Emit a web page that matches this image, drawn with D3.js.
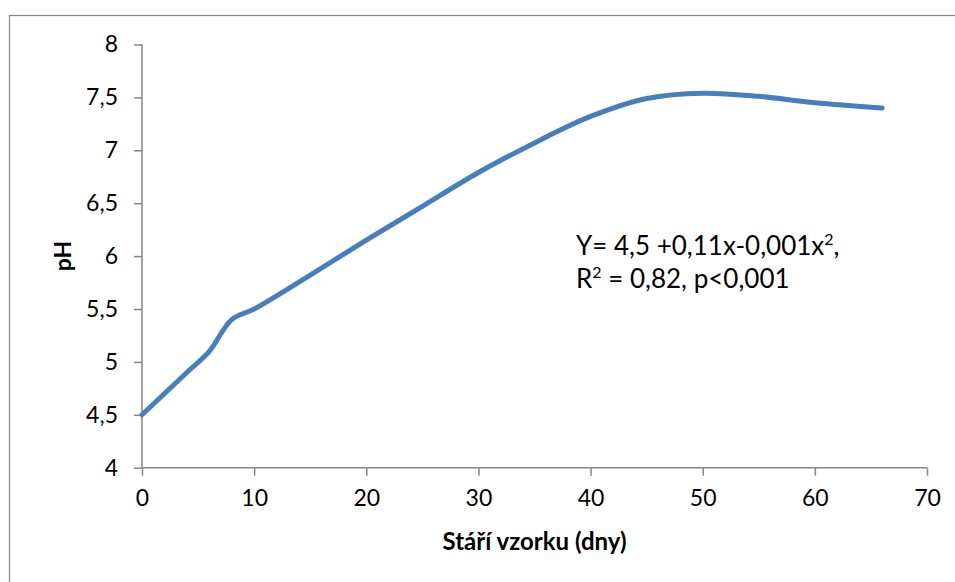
<!DOCTYPE html>
<html>
<head>
<meta charset="utf-8">
<script src="https://cdn.jsdelivr.net/npm/d3@7"></script>
<style>
  html, body { margin: 0; padding: 0; background: #fff; }
  svg { display: block; font-family: Lato, "Open Sans", sans-serif; }
</style>
</head>
<body>
<svg id="chart" width="955" height="582"></svg>
<script>
// Sample age in days and measured pH
const days = [0, 2, 4, 6, 8, 10, 15, 20, 25, 30, 35, 40, 45, 50, 55, 60, 66];
const ph   = [4.5, 4.7, 4.9, 5.1, 5.4, 5.5, 5.82, 6.15, 6.47, 6.79, 7.07, 7.32, 7.49, 7.54, 7.51, 7.45, 7.40];

const xTicks = [0, 10, 20, 30, 40, 50, 60, 70];
const yTicks = [4, 4.5, 5, 5.5, 6, 6.5, 7, 7.5, 8];

const xTitle = "Stáří vzorku (dny)";
const yTitle = "pH";
const eqLine1 = ["Y= 4,5 +0,11x-0,001x", "2", ","];
const eqLine2 = ["R", "2", " = 0,82, p<0,001"];

const svg = d3.select("#chart");
const axisColor = "#868686";
const lineColor = "#4a7ebb";

const fmt = d => String(d).replace(".", ",");

// chart area frame
svg.append("rect")
  .attr("x", 9.5).attr("y", 15.5)
  .attr("width", 1000).attr("height", 1000)
  .attr("fill", "none")
  .attr("stroke", "#878787")
  .attr("stroke-width", 1.2);

const x = d3.scaleLinear().domain([0, 70]).range([142, 927]);
const y = d3.scaleLinear().domain([4, 8]).range([467.7, 44.5]);

// y axis
const gy = svg.append("g")
  .attr("transform", `translate(${x(0)},0)`)
  .call(d3.axisLeft(y).tickValues(yTicks).tickSize(8).tickPadding(16).tickFormat(fmt));

// x axis
const gx = svg.append("g")
  .attr("transform", `translate(0,${y(4)})`)
  .call(d3.axisBottom(x).tickValues(xTicks).tickSize(8).tickPadding(14).tickFormat(fmt));

[gx, gy].forEach(g => {
  g.select(".domain").attr("stroke", axisColor).attr("stroke-width", 1.5);
  g.selectAll(".tick line").attr("stroke", axisColor).attr("stroke-width", 1.5);
  g.selectAll(".tick text")
    .attr("fill", "#000")
    .attr("font-family", "Lato, sans-serif")
    .attr("font-size", 23);
});
// remove outer tick stubs from the domain paths
gy.select(".domain").attr("d", `M0,${y(8)}V${y(4)}`);
gx.select(".domain").attr("d", `M${x(0)},0H${x(70)}`);

// data line
const line = d3.line()
  .x((d, i) => x(days[i]))
  .y(d => y(d))
  .curve(d3.curveCatmullRom.alpha(0.5));

svg.append("path")
  .datum(ph)
  .attr("d", line)
  .attr("fill", "none")
  .attr("stroke", lineColor)
  .attr("stroke-width", 5)
  .attr("stroke-linecap", "round")
  .attr("stroke-linejoin", "round");

// axis titles
svg.append("text")
  .attr("x", (x(0) + x(70)) / 2)
  .attr("y", 550)
  .attr("text-anchor", "middle")
  .attr("font-weight", "bold")
  .attr("font-size", 24)
  .text(xTitle);

svg.append("text")
  .attr("transform", `translate(71,${(y(4) + y(8)) / 2}) rotate(-90)`)
  .attr("text-anchor", "middle")
  .attr("font-weight", "bold")
  .attr("font-size", 23)
  .text(yTitle);

// regression equation
function eqText(parts, yPos) {
  const t = svg.append("text")
    .attr("x", 576).attr("y", yPos)
    .attr("font-size", 26)
    .attr("fill", "#000");
  t.append("tspan").text(parts[0]);
  t.append("tspan").attr("dy", -10).attr("font-size", 16).text(parts[1]);
  t.append("tspan").attr("dy", 10).text(parts[2]);
}
eqText(eqLine1, 255);
eqText(eqLine2, 288);
</script>
</body>
</html>
